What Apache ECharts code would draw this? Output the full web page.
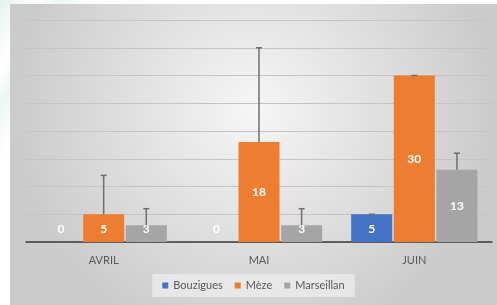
<!DOCTYPE html>
<html>
<head>
<meta charset="utf-8">
<script src="https://cdn.jsdelivr.net/npm/echarts@6/dist/echarts.min.js"></script>
<style>
  html, body { margin:0; padding:0; width:497px; height:305px; overflow:hidden;
    background: linear-gradient(120deg, #e6f2ed 0%, #ffffff 6%, #eef6f2 9%, #ffffff 14%); }
  #main { position:absolute; left:10px; top:4px; width:487px; height:301px; }
</style>
</head>
<body>
<div id="main"></div>
<script>
// mois
var mois = ['AVRIL', 'MAI', 'JUIN'];
// valeurs
var bouzigues = [0, 0, 5];
var meze = [5, 18, 30];
var marseillan = [3, 3, 13];
// barres d'erreur (vers le haut)
var errBouzigues = [0, 0, 0];
var errMeze = [7, 17, 0];
var errMarseillan = [3, 3, 3];

var noms = ['Bouzigues', 'Mèze', 'Marseillan'];
var couleurs = ['#4472C4', '#ED7D31', '#A5A5A5'];
var police = 'Lato, "Open Sans", sans-serif';
var largeur = 41;
var pas = 42.6;

// label au centre, ou en bas pour les petites barres
function barData(vals){
    var res = [];
    for (var i = 0; i < vals.length; i++) {
        if (vals[i] < 6) {
            res.push({value: vals[i], label: {position: 'insideBottom', distance: 7}});
        } else {
            res.push({value: vals[i]});
        }
    }
    return res;
}

function errData(vals, errs){
    var res = [];
    for (var i = 0; i < vals.length; i++) {
        res.push([i, vals[i], vals[i] + errs[i]]);
    }
    return res;
}

function errSerie(idx, data){
    return {
        type: 'custom',
        silent: true,
        z: 5,
        data: data,
        renderItem: function(params, api){
            var dx = (idx - 1) * pas;
            var p1 = api.coord([api.value(0), api.value(1)]);
            var p2 = api.coord([api.value(0), api.value(2)]);
            var x = p1[0] + dx;
            var st = {stroke: '#6f6f6f', lineWidth: 1.5};
            return {
                type: 'group',
                children: [
                    {type: 'line', shape: {x1: x, y1: p1[1], x2: x, y2: p2[1]}, style: st},
                    {type: 'line', shape: {x1: x - 3, y1: p2[1], x2: x + 3, y2: p2[1]}, style: st}
                ]
            };
        }
    };
}

function barSerie(i, vals){
    return {
        name: noms[i],
        type: 'bar',
        barWidth: largeur,
        barGap: '4%',
        itemStyle: {color: couleurs[i]},
        label: {
            show: true,
            position: 'inside',
            color: '#ffffff',
            fontFamily: police,
            fontWeight: 'bold',
            fontSize: 12
        },
        data: barData(vals)
    };
}

var myChart = echarts.init(document.getElementById('main'));
var option = {
    backgroundColor: {
        type: 'radial', x: 0.5, y: 0.35, r: 0.8,
        colorStops: [
            {offset: 0, color: '#f6f6f6'},
            {offset: 1, color: '#cbcbcb'}
        ]
    },
    animation: false,
    legend: {
        data: noms,
        bottom: 8,
        left: 'center',
        itemWidth: 6,
        itemHeight: 6,
        itemGap: 12,
        icon: 'rect',
        padding: [6, 10],
        backgroundColor: 'rgba(240,240,240,0.7)',
        textStyle: {color: '#595959', fontSize: 11, fontFamily: police}
    },
    grid: {left: 16, right: 5, top: 16, bottom: 63},
    xAxis: {
        type: 'category',
        data: mois,
        axisTick: {show: false},
        axisLine: {lineStyle: {color: '#3a3a3a', width: 1.5}},
        axisLabel: {color: '#595959', fontSize: 11, fontFamily: police, margin: 13}
    },
    yAxis: {
        type: 'value',
        min: 0,
        max: 40,
        interval: 5,
        axisLabel: {show: false},
        axisLine: {show: false},
        axisTick: {show: false},
        splitLine: {lineStyle: {color: '#c4c4c4', width: 1}}
    },
    series: [
        barSerie(0, bouzigues),
        barSerie(1, meze),
        barSerie(2, marseillan),
        // seul le cap de Bouzigues en JUIN est visible
        errSerie(0, [[2, bouzigues[2], bouzigues[2] + errBouzigues[2]]]),
        errSerie(1, errData(meze, errMeze)),
        errSerie(2, errData(marseillan, errMarseillan))
    ]
};
myChart.setOption(option);
</script>
</body>
</html>
